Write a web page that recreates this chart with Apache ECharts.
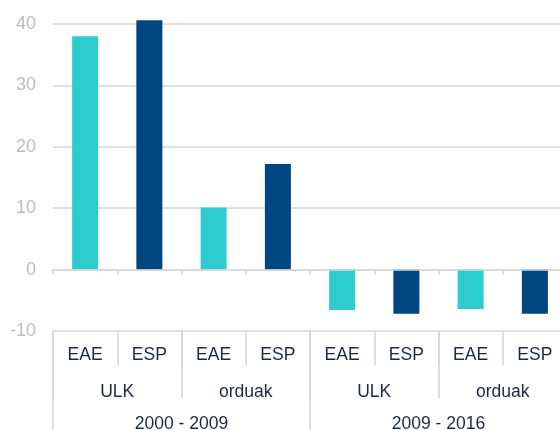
<!DOCTYPE html>
<html>
<head>
<meta charset="utf-8">
<script src="https://cdn.jsdelivr.net/npm/echarts@6/dist/echarts.min.js"></script>
<style>
html,body{margin:0;padding:0;background:#fff;}
#main{width:560px;height:430px;}
</style>
</head>
<body>
<div id="main"></div>
<script>
var regions = ['EAE', 'ESP', 'EAE', 'ESP', 'EAE', 'ESP', 'EAE', 'ESP'];
var measures = ['ULK', 'orduak', 'ULK', 'orduak'];
var periods = ['2000 - 2009', '2009 - 2016'];
var values = [38.0, 40.6, 10.1, 17.2, -6.6, -7.2, -6.4, -7.2];
var yTicks = { min: -10, max: 40, interval: 10 };
var colorEAE = '#2ECDCD';
var colorESP = '#004680';

var font = 'Liberation Sans, Arial, sans-serif';
var textColor = '#1c2945';
var lineColor = '#d6d6d6';

var chart = echarts.init(document.getElementById('main'));
chart.setOption({
  animation: false,
  grid: { left: 53, right: -7, top: 24, bottom: 99, containLabel: false, outerBoundsMode: 'none' },
  yAxis: {
    type: 'value', min: yTicks.min, max: yTicks.max, interval: yTicks.interval,
    axisLine: { show: false }, axisTick: { show: false },
    splitLine: { lineStyle: { color: lineColor, width: 1.6 } },
    axisLabel: { color: '#bcbcbc', fontSize: 18, fontFamily: font, margin: 17 }
  },
  xAxis: [
    {
      type: 'category', data: regions, position: 'bottom', z: 5,
      axisLine: { onZero: true, lineStyle: { color: lineColor, width: 1.6 } },
      axisTick: { show: true, length: 5, lineStyle: { color: lineColor, width: 1.6 } },
      axisLabel: { show: false }
    },
    {
      type: 'category', data: regions, position: 'bottom',
      axisLine: { onZero: false, show: false },
      axisTick: { show: true, length: 34, lineStyle: { color: lineColor, width: 1.6 } },
      axisLabel: { color: textColor, fontSize: 17.5, fontFamily: font, margin: 15 }
    },
    {
      type: 'category', data: measures, position: 'bottom',
      axisLine: { onZero: false, show: false },
      axisTick: { show: true, length: 67, lineStyle: { color: lineColor, width: 1.6 } },
      axisLabel: { color: textColor, fontSize: 17.5, fontFamily: font, margin: 52 }
    },
    {
      type: 'category', data: periods, position: 'bottom',
      axisLine: { onZero: false, show: false },
      axisTick: { show: true, length: 110, lineStyle: { color: lineColor, width: 1.6 } },
      axisLabel: { color: textColor, fontSize: 17.5, fontFamily: font, margin: 84 }
    }
  ],
  series: [{
    type: 'bar', xAxisIndex: 0, clip: false, barWidth: 26,
    data: values.map(function (v, i) {
      return { value: v, itemStyle: { color: regions[i] === 'EAE' ? colorEAE : colorESP } };
    })
  }]
});
</script>
</body>
</html>
